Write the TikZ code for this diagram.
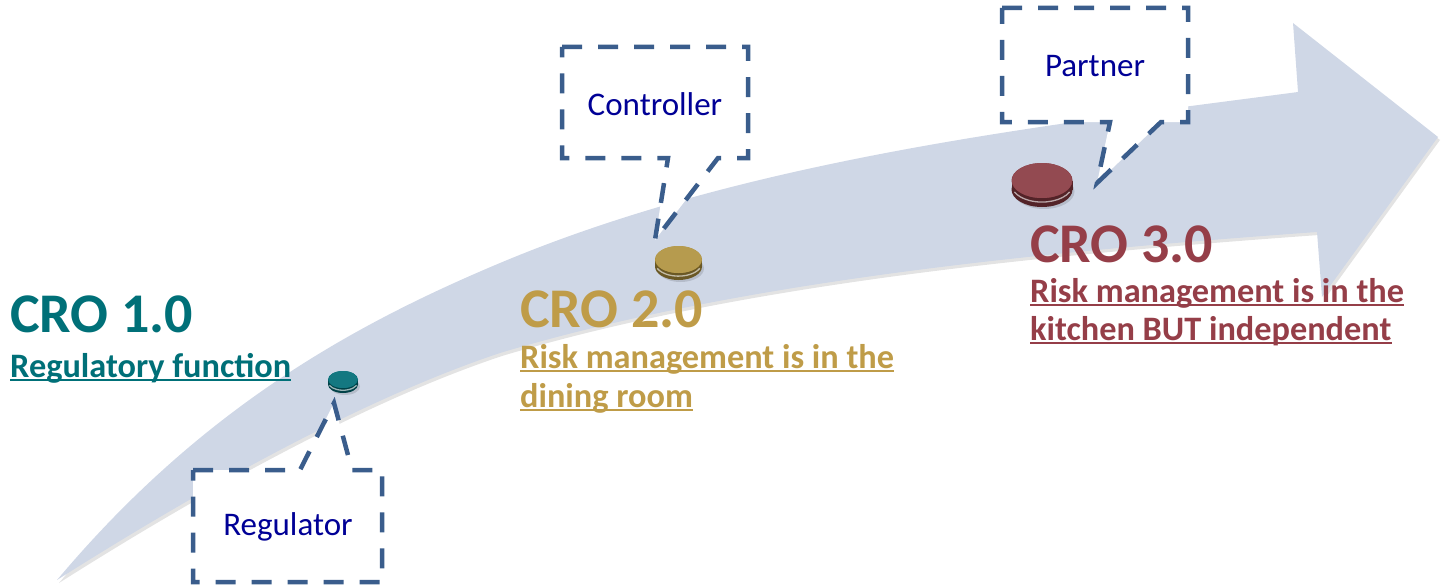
\documentclass[tikz,border=0pt]{standalone}
\usepackage{fontspec}
\setmainfont{Carlito}
\usetikzlibrary{shadows}
\definecolor{arrowc}{RGB}{207,215,230}
\definecolor{dashc}{RGB}{58,93,140}
\definecolor{navyt}{RGB}{0,0,150}
\definecolor{tealt}{RGB}{0,112,120}
\definecolor{goldt}{RGB}{191,156,72}
\definecolor{maroont}{RGB}{149,62,72}
\definecolor{teald}{RGB}{0,108,118}
\definecolor{goldd}{RGB}{176,146,62}
\definecolor{maroond}{RGB}{138,58,66}
\newcommand\cdisc[6]{%
  \fill[black,opacity=.12] (#1+2,#2+#6+2) ellipse[x radius=#3, y radius=#4];
  \fill[#5!60!black] (#1,#2+#6) ellipse[x radius=#3, y radius=#4];
  \fill[#5!60!black] (#1-#3,#2) rectangle (#1+#3,#2+#6);
  \fill[#5] (#1,#2) ellipse[x radius=#3, y radius=#4];
  \draw[white,opacity=.6,line width=1.3pt] ([shift={(25:#3 and #4)}]#1,#2+#6*0.45) arc[start angle=25,end angle=155,x radius=#3,y radius=#4];
  \fill[#5!92!white] (#1,#2) ellipse[x radius=#3-0.5, y radius=#4];
}
\tikzset{
  callout/.style={draw=dashc, line width=4.5pt, dash pattern=on 20pt off 16pt, fill=white, line join=miter},
  ctext/.style={anchor=base, inner sep=0, text=navyt, font=\fontsize{33}{36}\selectfont},
  title/.style={anchor=base west, inner sep=0, font=\bfseries\fontsize{56}{60}\selectfont},
  subt/.style={anchor=base west, inner sep=0, font=\bfseries\fontsize{34.3}{40}\selectfont},
  ul/.style={line width=2pt}
}
\begin{document}
\begin{tikzpicture}[x=1pt,y=-1pt]
\useasboundingbox (0,0) rectangle (1445,586);
% big curved arrow
\path[fill=arrowc, drop shadow={shadow xshift=2pt, shadow yshift=-3pt, opacity=.22}]
  (57,580) .. controls (200,410) and (350,326) .. (500,263)
  .. controls (750,158) and (1048,125) .. (1298,92)
  -- (1293,23) -- (1438,137) -- (1322,297) -- (1317,232)
  .. controls (1067,250) and (750,278) .. (500,353)
  .. controls (350,403) and (177,504) .. (57,580)
  -- cycle;
% discs
\cdisc{343}{379.5}{15}{8.5}{teald}{5}
\cdisc{678.5}{259.5}{23.5}{13.5}{goldd}{7}
\cdisc{1042}{180.5}{30.5}{17.5}{maroond}{9}
% callouts
\coordinate (p1) at (334,403);
\coordinate (p2) at (655,240);
\coordinate (p3) at (1097,183);
\draw[callout] (193,470) -- (300,470) -- (p1) -- (352,470) -- (382,470) -- (382,582) -- (193,582) -- cycle;
\draw[callout] (562,47) -- (748,47) -- (748,158) -- (718,158) -- (p2) -- (668,158) -- (562,158) -- cycle;
\draw[callout] (1002,8) -- (1188,8) -- (1188,122) -- (1161,122) -- (p3) -- (1110,122) -- (1002,122) -- cycle;
\node[ctext] (reg) at (288,535) {Regulator};
\node[ctext] (con) at (655,115) {Controller};
\node[ctext] (par) at (1095,76) {Partner};
% titles
\node[title, text=tealt] (cro1) at (10,332) {CRO 1.0};
\node[subt, text=tealt] (s1) at (10,377) {Regulatory function};
\draw[ul, tealt] ([yshift=-3pt]s1.base west) -- ([yshift=-3pt]s1.base east);
\node[title, text=goldt] (cro2) at (520,327) {CRO 2.0};
\node[subt, text=goldt] (s2a) at (520,368) {Risk management is in the};
\node[subt, text=goldt] (s2b) at (520,407) {dining room};
\draw[ul, goldt] ([yshift=-3pt]s2a.base west) -- ([yshift=-3pt]s2a.base east);
\draw[ul, goldt] ([yshift=-3pt]s2b.base west) -- ([yshift=-3pt]s2b.base east);
\node[title, text=maroont] (cro3) at (1030,262) {CRO 3.0};
\node[subt, text=maroont] (s3a) at (1030,302) {Risk management is in the};
\node[subt, text=maroont] (s3b) at (1030,340) {kitchen BUT independent};
\draw[ul, maroont] ([yshift=-3pt]s3a.base west) -- ([yshift=-3pt]s3a.base east);
\draw[ul, maroont] ([yshift=-3pt]s3b.base west) -- ([yshift=-3pt]s3b.base east);
\end{tikzpicture}
\end{document}
